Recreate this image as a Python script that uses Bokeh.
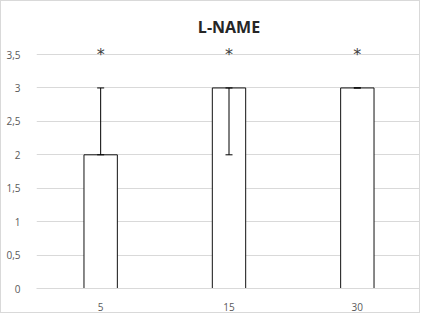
from bokeh.plotting import figure
from bokeh.models import ColumnDataSource, Whisker, FixedTicker, Range1d, FactorRange
from bokeh.core.properties import value
from bokeh.embed import file_html
from bokeh.resources import INLINE

categories = ["5", "15", "30"]
values = [2, 3, 3]
err_lower = [2, 2, 3]
err_upper = [3, 3, 3]
star_y = [3.5, 3.5, 3.5]
stars = ["*", "*", "*"]
y_ticks = [0, 0.5, 1, 1.5, 2, 2.5, 3, 3.5]
y_tick_labels = ["0", "0,5", "1", "1,5", "2", "2,5", "3", "3,5"]

src = ColumnDataSource(dict(cat=categories, val=values, lo=err_lower, hi=err_upper,
                            sy=star_y, st=stars))

p = figure(width=420, height=313, output_backend="svg", toolbar_location=None,
           x_range=FactorRange(*categories), y_range=Range1d(0, 3.65),
           min_border_left=35, min_border_right=0, min_border_top=43, min_border_bottom=26)
p.styles = {"border": "1px solid #d9d9d9"}

p.title.text = "L-NAME"
p.title.align = "center"
p.title.text_font = "Open Sans"
p.title.text_font_size = "16px"
p.title.text_font_style = "bold"
p.title.text_color = "#262626"
p.title.standoff = 14

p.vbar(x="cat", top="val", width=0.26, source=src, fill_color="white",
       line_color="#111111", line_width=1)

wh = Whisker(base="cat", lower="lo", upper="hi", source=src, line_color="black",
             line_width=1, level="overlay")
wh.upper_head.size = 7
wh.lower_head.size = 7
wh.upper_head.line_color = "black"
wh.lower_head.line_color = "black"
p.add_layout(wh)

p.text(x="cat", y="sy", text="st", source=src, text_align="center", text_baseline="middle",
       text_font=value("DejaVu Sans"), text_font_size="16px", text_color="#404040")

p.yaxis.ticker = FixedTicker(ticks=y_ticks)
p.yaxis.major_label_overrides = {t: l for t, l in zip(y_ticks, y_tick_labels)}
for ax in (p.xaxis, p.yaxis):
    ax.major_tick_line_color = None
    ax.minor_tick_line_color = None
    ax.major_label_text_font = "Open Sans"
    ax.major_label_text_font_size = "10px"
    ax.major_label_text_color = "#595959"
p.yaxis.axis_line_color = None
p.xaxis.axis_line_color = "#d9d9d9"
p.xaxis.major_label_standoff = 8
p.yaxis.major_label_standoff = 10

p.xgrid.grid_line_color = None
p.ygrid.grid_line_color = "#d9d9d9"
p.outline_line_color = None

open("out.html", "w").write(file_html(p, INLINE))
